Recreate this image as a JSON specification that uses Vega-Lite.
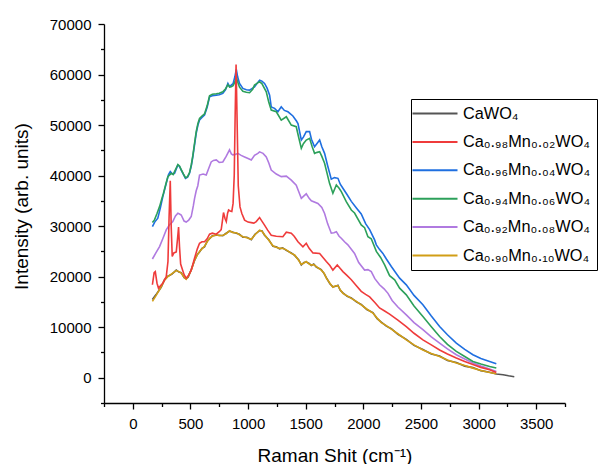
{
  "$schema": "https://vega.github.io/schema/vega-lite/v6.json",
  "width": 461,
  "height": 379,
  "autosize": {"type": "none"},
  "padding": {"left": 104, "top": 24, "right": 41, "bottom": 61},
  "background": "white",
  "config": {
    "view": {"stroke": null},
    "font": "Liberation Sans",
    "axis": {"grid": false, "domainColor": "black", "tickColor": "black", "labelColor": "black", "titleColor": "black", "labelFont": "Liberation Sans", "titleFont": "Liberation Sans", "labelFontSize": 15, "titleFontSize": 19, "titleFontWeight": "normal", "labelOverlap": false, "labelFlush": false, "labelBound": false, "domainWidth": 1.3, "tickWidth": 1.3},
    "legend": {"labelFont": "Liberation Sans", "labelFontSize": 16.3, "labelColor": "black", "labelLimit": 400}
  },
  "datasets": {
    "A": [
      {"x":170,"y":15500},{"x":200,"y":16400},{"x":246,"y":17900},{"x":275,"y":19400},{"x":304,"y":20100},{"x":340,"y":20500},{"x":377,"y":21300},{"x":400,"y":20900},{"x":420,"y":20800},{"x":445,"y":19800},{"x":463,"y":19600},{"x":480,"y":19900},{"x":507,"y":21400},{"x":536,"y":23200},{"x":560,"y":24400},{"x":579,"y":24900},{"x":600,"y":25600},{"x":622,"y":25900},{"x":645,"y":27000},{"x":666,"y":27500},{"x":690,"y":28100},{"x":724,"y":28200},{"x":750,"y":28200},{"x":781,"y":28100},{"x":810,"y":28600},{"x":839,"y":29000},{"x":870,"y":28800},{"x":898,"y":28600},{"x":925,"y":28400},{"x":955,"y":27800},{"x":990,"y":27800},{"x":1028,"y":27300},{"x":1060,"y":28400},{"x":1100,"y":29100},{"x":1120,"y":29100},{"x":1143,"y":28200},{"x":1180,"y":27300},{"x":1216,"y":26000},{"x":1245,"y":25900},{"x":1273,"y":25500},{"x":1300,"y":25700},{"x":1332,"y":25200},{"x":1375,"y":24700},{"x":1404,"y":24200},{"x":1440,"y":23300},{"x":1462,"y":22300},{"x":1485,"y":22800},{"x":1505,"y":22900},{"x":1530,"y":22600},{"x":1549,"y":22200},{"x":1570,"y":22500},{"x":1592,"y":21900},{"x":1635,"y":21400},{"x":1660,"y":20600},{"x":1679,"y":19800},{"x":1710,"y":18600},{"x":1736,"y":18000},{"x":1760,"y":18100},{"x":1780,"y":18300},{"x":1800,"y":17300},{"x":1823,"y":16800},{"x":1860,"y":16100},{"x":1896,"y":15800},{"x":1940,"y":15000},{"x":1982,"y":14500},{"x":2030,"y":13500},{"x":2083,"y":12900},{"x":2120,"y":11700},{"x":2156,"y":11000},{"x":2200,"y":10200},{"x":2243,"y":9700},{"x":2300,"y":8600},{"x":2373,"y":7600},{"x":2440,"y":6400},{"x":2517,"y":5600},{"x":2590,"y":4700},{"x":2662,"y":4300},{"x":2730,"y":3400},{"x":2807,"y":3000},{"x":2880,"y":2300},{"x":2951,"y":2000},{"x":3020,"y":1400},{"x":3096,"y":1100},{"x":3154,"y":750},{"x":3213,"y":600},{"x":3260,"y":380},{"x":3310,"y":180}
    ],
    "F": [
      {"x":170,"y":15100},{"x":200,"y":16200},{"x":246,"y":18000},{"x":275,"y":19300},{"x":304,"y":20000},{"x":340,"y":20600},{"x":377,"y":21200},{"x":400,"y":21000},{"x":420,"y":20700},{"x":445,"y":19900},{"x":463,"y":19500},{"x":480,"y":20000},{"x":507,"y":21300},{"x":536,"y":23300},{"x":560,"y":24300},{"x":579,"y":25000},{"x":600,"y":25500},{"x":622,"y":26000},{"x":645,"y":26900},{"x":666,"y":27600},{"x":690,"y":28000},{"x":724,"y":28300},{"x":750,"y":28100},{"x":781,"y":28200},{"x":810,"y":28500},{"x":839,"y":29100},{"x":870,"y":28700},{"x":898,"y":28700},{"x":925,"y":28300},{"x":955,"y":27900},{"x":990,"y":27700},{"x":1028,"y":27400},{"x":1060,"y":28300},{"x":1100,"y":29200},{"x":1120,"y":29000},{"x":1143,"y":28300},{"x":1180,"y":27200},{"x":1216,"y":26100},{"x":1245,"y":25800},{"x":1273,"y":25600},{"x":1300,"y":25600},{"x":1332,"y":25300},{"x":1375,"y":24600},{"x":1404,"y":24300},{"x":1440,"y":23200},{"x":1462,"y":22400},{"x":1485,"y":22700},{"x":1505,"y":23000},{"x":1530,"y":22500},{"x":1549,"y":22300},{"x":1570,"y":22400},{"x":1592,"y":22000},{"x":1635,"y":21300},{"x":1660,"y":20700},{"x":1679,"y":19700},{"x":1710,"y":18700},{"x":1736,"y":17900},{"x":1760,"y":18200},{"x":1780,"y":18200},{"x":1800,"y":17400},{"x":1823,"y":16700},{"x":1860,"y":16200},{"x":1896,"y":15700},{"x":1940,"y":15100},{"x":1982,"y":14400},{"x":2030,"y":13600},{"x":2083,"y":12800},{"x":2120,"y":11800},{"x":2156,"y":10900},{"x":2200,"y":10300},{"x":2243,"y":9600},{"x":2300,"y":8700},{"x":2373,"y":7500},{"x":2440,"y":6500},{"x":2517,"y":5500},{"x":2590,"y":4800},{"x":2662,"y":4200},{"x":2730,"y":3500},{"x":2807,"y":2900},{"x":2880,"y":2400},{"x":2951,"y":1900},{"x":3020,"y":1450},{"x":3096,"y":1050},{"x":3154,"y":790}
    ],
    "B": [
      {"x":170,"y":18400},{"x":185,"y":20800},{"x":195,"y":21000},{"x":210,"y":18700},{"x":223,"y":17700},{"x":240,"y":18200},{"x":260,"y":18700},{"x":290,"y":20000},{"x":305,"y":23000},{"x":315,"y":32000},{"x":325,"y":39000},{"x":333,"y":30000},{"x":342,"y":24000},{"x":356,"y":24700},{"x":377,"y":24900},{"x":390,"y":28000},{"x":397,"y":29800},{"x":405,"y":26000},{"x":415,"y":22500},{"x":426,"y":21700},{"x":445,"y":20400},{"x":463,"y":19700},{"x":485,"y":20300},{"x":507,"y":21300},{"x":536,"y":23700},{"x":560,"y":25500},{"x":579,"y":26600},{"x":600,"y":26900},{"x":622,"y":26900},{"x":645,"y":27500},{"x":666,"y":28400},{"x":690,"y":28600},{"x":724,"y":28400},{"x":750,"y":28900},{"x":767,"y":29300},{"x":780,"y":31500},{"x":787,"y":32700},{"x":800,"y":31500},{"x":811,"y":30900},{"x":822,"y":32500},{"x":831,"y":33200},{"x":845,"y":33000},{"x":859,"y":32900},{"x":870,"y":34500},{"x":880,"y":40000},{"x":888,"y":52000},{"x":896,"y":62000},{"x":904,"y":52000},{"x":915,"y":38000},{"x":930,"y":33800},{"x":946,"y":32500},{"x":970,"y":31200},{"x":1000,"y":30800},{"x":1028,"y":30700},{"x":1050,"y":30600},{"x":1071,"y":30900},{"x":1100,"y":31700},{"x":1120,"y":31000},{"x":1143,"y":30200},{"x":1170,"y":29200},{"x":1201,"y":28200},{"x":1245,"y":28000},{"x":1302,"y":27900},{"x":1332,"y":28800},{"x":1375,"y":28600},{"x":1400,"y":28000},{"x":1433,"y":26900},{"x":1476,"y":25900},{"x":1505,"y":26600},{"x":1530,"y":25600},{"x":1563,"y":24700},{"x":1621,"y":24600},{"x":1650,"y":23800},{"x":1679,"y":23000},{"x":1710,"y":22200},{"x":1736,"y":21300},{"x":1774,"y":22300},{"x":1800,"y":21600},{"x":1823,"y":21000},{"x":1860,"y":20200},{"x":1896,"y":19400},{"x":1940,"y":18200},{"x":1982,"y":17100},{"x":2020,"y":16500},{"x":2055,"y":16000},{"x":2100,"y":14900},{"x":2141,"y":13800},{"x":2185,"y":13200},{"x":2228,"y":12600},{"x":2300,"y":11400},{"x":2373,"y":10100},{"x":2440,"y":8800},{"x":2517,"y":7500},{"x":2590,"y":6500},{"x":2662,"y":5500},{"x":2730,"y":4700},{"x":2807,"y":3900},{"x":2880,"y":3200},{"x":2951,"y":2600},{"x":3020,"y":2050},{"x":3096,"y":1580},{"x":3154,"y":1050}
    ],
    "E": [
      {"x":170,"y":23500},{"x":200,"y":24700},{"x":232,"y":25950},{"x":260,"y":27500},{"x":290,"y":29250},{"x":320,"y":30300},{"x":347,"y":30900},{"x":370,"y":32000},{"x":391,"y":32550},{"x":405,"y":32400},{"x":420,"y":32200},{"x":445,"y":31000},{"x":463,"y":30800},{"x":485,"y":31200},{"x":507,"y":31900},{"x":525,"y":34000},{"x":536,"y":35500},{"x":550,"y":37000},{"x":564,"y":38000},{"x":579,"y":40100},{"x":610,"y":40300},{"x":637,"y":40100},{"x":660,"y":41500},{"x":680,"y":42700},{"x":700,"y":43000},{"x":724,"y":43100},{"x":750,"y":42600},{"x":781,"y":42700},{"x":810,"y":43800},{"x":839,"y":45100},{"x":855,"y":44300},{"x":868,"y":44100},{"x":890,"y":44200},{"x":911,"y":44400},{"x":940,"y":44000},{"x":970,"y":43700},{"x":1000,"y":43400},{"x":1028,"y":43100},{"x":1056,"y":44000},{"x":1085,"y":44400},{"x":1100,"y":44700},{"x":1130,"y":44400},{"x":1158,"y":43700},{"x":1180,"y":42500},{"x":1201,"y":41100},{"x":1245,"y":40300},{"x":1288,"y":39800},{"x":1332,"y":39900},{"x":1375,"y":39100},{"x":1418,"y":38100},{"x":1440,"y":36800},{"x":1462,"y":35500},{"x":1485,"y":36000},{"x":1505,"y":36400},{"x":1530,"y":35500},{"x":1549,"y":35000},{"x":1606,"y":34500},{"x":1640,"y":33700},{"x":1664,"y":32500},{"x":1690,"y":30500},{"x":1722,"y":28600},{"x":1745,"y":28700},{"x":1766,"y":28900},{"x":1790,"y":28000},{"x":1809,"y":27600},{"x":1837,"y":26900},{"x":1866,"y":26300},{"x":1924,"y":24600},{"x":1960,"y":22800},{"x":2011,"y":21300},{"x":2040,"y":21400},{"x":2069,"y":21000},{"x":2100,"y":19600},{"x":2141,"y":18400},{"x":2180,"y":17600},{"x":2214,"y":16700},{"x":2250,"y":15300},{"x":2300,"y":14000},{"x":2373,"y":12450},{"x":2440,"y":10900},{"x":2517,"y":9500},{"x":2590,"y":8100},{"x":2662,"y":6860},{"x":2730,"y":5700},{"x":2807,"y":4550},{"x":2880,"y":3700},{"x":2951,"y":2900},{"x":3020,"y":2300},{"x":3096,"y":1710},{"x":3154,"y":1250}
    ],
    "C": [
      {"x":170,"y":29900},{"x":190,"y":30800},{"x":217,"y":31560},{"x":240,"y":33700},{"x":260,"y":35800},{"x":290,"y":38470},{"x":310,"y":40200},{"x":325,"y":40780},{"x":345,"y":40300},{"x":362,"y":40450},{"x":391,"y":42090},{"x":405,"y":41800},{"x":420,"y":41100},{"x":440,"y":40200},{"x":457,"y":39460},{"x":475,"y":39700},{"x":492,"y":40450},{"x":508,"y":42000},{"x":521,"y":43730},{"x":535,"y":46000},{"x":550,"y":48360},{"x":565,"y":50000},{"x":579,"y":50990},{"x":600,"y":51500},{"x":622,"y":51980},{"x":645,"y":53500},{"x":666,"y":55590},{"x":690,"y":55800},{"x":724,"y":55930},{"x":750,"y":56000},{"x":781,"y":56270},{"x":805,"y":57000},{"x":825,"y":58240},{"x":840,"y":57600},{"x":854,"y":57900},{"x":870,"y":58200},{"x":885,"y":59500},{"x":898,"y":61000},{"x":910,"y":59500},{"x":926,"y":58240},{"x":955,"y":57250},{"x":985,"y":57000},{"x":1013,"y":56920},{"x":1040,"y":57300},{"x":1056,"y":57570},{"x":1080,"y":58300},{"x":1100,"y":58890},{"x":1120,"y":58700},{"x":1143,"y":58240},{"x":1165,"y":57300},{"x":1187,"y":55930},{"x":1201,"y":53600},{"x":1230,"y":53300},{"x":1259,"y":52630},{"x":1288,"y":53620},{"x":1315,"y":52900},{"x":1346,"y":52630},{"x":1389,"y":51800},{"x":1420,"y":50800},{"x":1433,"y":50300},{"x":1462,"y":47040},{"x":1480,"y":47600},{"x":1505,"y":48700},{"x":1534,"y":48700},{"x":1550,"y":47200},{"x":1577,"y":45720},{"x":1600,"y":46400},{"x":1621,"y":47040},{"x":1640,"y":45700},{"x":1664,"y":44400},{"x":1690,"y":42000},{"x":1722,"y":39300},{"x":1750,"y":39600},{"x":1780,"y":39460},{"x":1800,"y":38300},{"x":1823,"y":37500},{"x":1860,"y":36200},{"x":1896,"y":34900},{"x":1940,"y":33600},{"x":1982,"y":32400},{"x":2020,"y":30500},{"x":2055,"y":29300},{"x":2098,"y":27270},{"x":2113,"y":26300},{"x":2140,"y":25400},{"x":2170,"y":24600},{"x":2200,"y":23500},{"x":2243,"y":22000},{"x":2315,"y":19700},{"x":2373,"y":18380},{"x":2440,"y":16300},{"x":2517,"y":14430},{"x":2590,"y":12200},{"x":2662,"y":10140},{"x":2730,"y":8500},{"x":2807,"y":6860},{"x":2880,"y":5600},{"x":2951,"y":4550},{"x":3020,"y":3800},{"x":3096,"y":3230},{"x":3154,"y":2770}
    ],
    "D": [
      {"x":170,"y":30700},{"x":188,"y":31230},{"x":210,"y":32500},{"x":232,"y":33860},{"x":250,"y":35300},{"x":266,"y":36500},{"x":285,"y":38200},{"x":304,"y":39780},{"x":333,"y":40450},{"x":350,"y":40200},{"x":362,"y":40780},{"x":391,"y":42200},{"x":405,"y":41900},{"x":420,"y":41200},{"x":440,"y":40300},{"x":457,"y":39600},{"x":475,"y":39800},{"x":492,"y":40600},{"x":508,"y":42200},{"x":521,"y":44000},{"x":535,"y":46300},{"x":550,"y":48700},{"x":565,"y":50300},{"x":579,"y":51300},{"x":600,"y":51800},{"x":622,"y":52200},{"x":645,"y":53800},{"x":666,"y":55800},{"x":690,"y":56100},{"x":724,"y":56200},{"x":750,"y":56300},{"x":781,"y":56600},{"x":805,"y":57200},{"x":825,"y":58000},{"x":840,"y":57500},{"x":854,"y":57600},{"x":870,"y":57800},{"x":885,"y":58500},{"x":898,"y":59500},{"x":910,"y":58500},{"x":926,"y":57500},{"x":955,"y":56700},{"x":985,"y":56500},{"x":1013,"y":56400},{"x":1040,"y":57100},{"x":1056,"y":57900},{"x":1080,"y":58300},{"x":1100,"y":58560},{"x":1120,"y":58200},{"x":1158,"y":56580},{"x":1180,"y":54500},{"x":1201,"y":52960},{"x":1245,"y":52630},{"x":1288,"y":50990},{"x":1332,"y":51650},{"x":1375,"y":50000},{"x":1418,"y":49670},{"x":1440,"y":47500},{"x":1462,"y":45390},{"x":1480,"y":46300},{"x":1505,"y":47040},{"x":1534,"y":47370},{"x":1555,"y":45800},{"x":1577,"y":44400},{"x":1600,"y":44600},{"x":1621,"y":44730},{"x":1640,"y":43800},{"x":1664,"y":42430},{"x":1685,"y":40500},{"x":1707,"y":38470},{"x":1736,"y":36500},{"x":1766,"y":38140},{"x":1790,"y":37500},{"x":1809,"y":36820},{"x":1852,"y":34840},{"x":1896,"y":33200},{"x":1924,"y":32600},{"x":1982,"y":30240},{"x":2011,"y":29700},{"x":2040,"y":27900},{"x":2069,"y":27500},{"x":2113,"y":25000},{"x":2150,"y":23800},{"x":2185,"y":22330},{"x":2228,"y":20200},{"x":2272,"y":19370},{"x":2315,"y":17730},{"x":2373,"y":16400},{"x":2440,"y":14200},{"x":2517,"y":12120},{"x":2590,"y":10100},{"x":2662,"y":8160},{"x":2730,"y":6600},{"x":2807,"y":5200},{"x":2880,"y":4200},{"x":2951,"y":3230},{"x":3020,"y":2700},{"x":3096,"y":2230},{"x":3154,"y":1910}
    ]
  },
  "encoding": {
    "x": {"field": "x", "type": "quantitative",
      "scale": {"domain": [-250, 3750], "nice": false, "zero": false},
      "axis": {"title": "Raman Shit (cm⁻¹)", "values": [-250,0,250,500,750,1000,1250,1500,1750,2000,2250,2500,2750,3000,3250,3500,3750], "format": "d", "labelExpr": "datum.value % 500 === 0 ? datum.label : ''", "tickSize": {"condition": {"test": "datum.value % 500 === 0", "value": 6}, "value": 3.5}, "labelPadding": 7, "titlePadding": 15}},
    "y": {"field": "y", "type": "quantitative",
      "scale": {"domain": [-5000, 70000], "nice": false, "zero": false},
      "axis": {"title": "Intensity (arb. units)", "values": [-5000,0,5000,10000,15000,20000,25000,30000,35000,40000,45000,50000,55000,60000,65000,70000], "format": "d", "labelExpr": "datum.value % 10000 === 0 ? datum.label : ''", "tickSize": {"condition": {"test": "datum.value % 10000 === 0", "value": 6}, "value": 3.5}, "labelPadding": 7, "titlePadding": 18, "titleY": 182}}
  },
  "layer": [
    {"data": {"name": "A"}, "mark": {"type": "line", "strokeWidth": 1.6}, "encoding": {"color": {"datum": "CaWO₄"}}},
    {"data": {"name": "F"}, "mark": {"type": "line", "strokeWidth": 1.6}, "encoding": {"color": {"datum": "Ca₀.₉₀Mn₀.₁₀WO₄"}}},
    {"data": {"name": "E"}, "mark": {"type": "line", "strokeWidth": 1.6}, "encoding": {"color": {"datum": "Ca₀.₉₂Mn₀.₀₈WO₄"}}},
    {"data": {"name": "C"}, "mark": {"type": "line", "strokeWidth": 1.6}, "encoding": {"color": {"datum": "Ca₀.₉₆Mn₀.₀₄WO₄"}}},
    {"data": {"name": "D"}, "mark": {"type": "line", "strokeWidth": 1.6}, "encoding": {"color": {"datum": "Ca₀.₉₄Mn₀.₀₆WO₄"}}},
    {"data": {"name": "B"}, "mark": {"type": "line", "strokeWidth": 1.6},
      "encoding": {"color": {"datum": "Ca₀.₉₈Mn₀.₀₂WO₄", "type": "nominal",
        "scale": {"domain": ["CaWO₄", "Ca₀.₉₈Mn₀.₀₂WO₄", "Ca₀.₉₆Mn₀.₀₄WO₄", "Ca₀.₉₄Mn₀.₀₆WO₄", "Ca₀.₉₂Mn₀.₀₈WO₄", "Ca₀.₉₀Mn₀.₁₀WO₄"],
                  "range": ["#555555", "#ef3b3b", "#1f6fe0", "#2ca05a", "#b07ae0", "#d19e16"]},
        "legend": {"title": null, "orient": "none", "legendX": 307, "legendY": 75, "strokeColor": "black", "fillColor": "white", "padding": 6, "symbolType": "M-3,0H3", "symbolSize": 225, "symbolStrokeWidth": 2, "symbolOffset": 9.5, "labelOffset": 19.5, "rowPadding": 11.4}}}}
  ]
}
